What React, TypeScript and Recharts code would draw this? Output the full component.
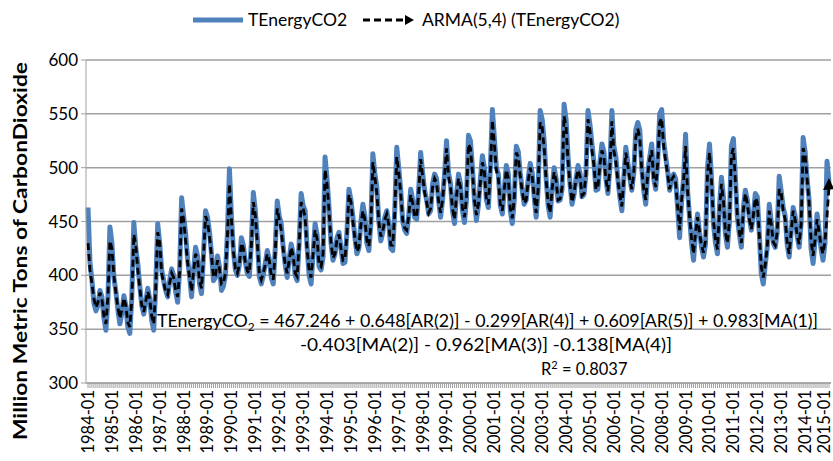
import React from "react";
import { LineChart, Line, XAxis, YAxis, CartesianGrid } from "recharts";

// monthly categories 1984-01 .. 2015-01
const years = [1984, 1985, 1986, 1987, 1988, 1989, 1990, 1991, 1992, 1993, 1994, 1995, 1996, 1997, 1998, 1999, 2000, 2001, 2002, 2003, 2004, 2005, 2006, 2007, 2008, 2009, 2010, 2011, 2012, 2013, 2014, 2015];
const monthCodes = ["01", "02", "03", "04", "05", "06", "07", "08", "09", "10", "11", "12"];

// TEnergyCO2, million metric tons
const energyCO2 = [
  463, 412, 395, 374, 367, 372, 386, 380, 360, 349, 378, 445,
  430, 398, 385, 368, 355, 365, 381, 372, 352, 346, 380, 449,
  425, 411, 390, 372, 364, 375, 388, 378, 358, 349, 390, 448,
  430, 405, 395, 386, 380, 395, 406, 400, 385, 375, 405, 472,
  455, 439, 415, 399, 380, 405, 426, 418, 392, 383, 420, 460,
  454, 440, 420, 395, 398, 418, 408, 386, 390, 400, 440, 499,
  455, 423, 405, 400, 410, 435, 428, 412, 402, 399, 430, 477,
  460, 435, 399, 392, 400, 411, 423, 415, 398, 392, 425, 469,
  455, 448, 426, 410, 398, 415, 429, 420, 400, 395, 430, 476,
  465, 460, 426, 400, 392, 420, 448, 438, 408, 405, 417, 510,
  490, 463, 430, 414, 420, 435, 440, 425, 411, 412, 440, 480,
  470, 454, 435, 420, 425, 450, 466, 455, 430, 423, 448, 513,
  495, 482, 450, 432, 440, 454, 460, 448, 425, 423, 460, 519,
  500, 479, 450, 442, 439, 455, 480, 470, 454, 452, 479, 514,
  495, 479, 470, 457, 460, 485, 494, 490, 470, 454, 470, 494,
  525, 495, 485, 460, 448, 475, 494, 485, 460, 449, 470, 530,
  525, 500, 470, 451, 465, 490, 511, 500, 470, 463, 500, 554,
  528, 500, 494, 465, 457, 480, 502, 495, 460, 448, 470, 520,
  515, 495, 479, 466, 470, 490, 504, 495, 473, 454, 480, 553,
  545, 525, 490, 465, 454, 480, 500, 490, 469, 470, 480, 559,
  545, 510, 485, 466, 475, 490, 502, 495, 473, 475, 495, 553,
  540, 522, 505, 479, 480, 505, 522, 515, 490, 476, 500, 553,
  520, 510, 490, 473, 460, 490, 519, 505, 491, 479, 495, 535,
  542, 535, 500, 479, 466, 495, 510, 522, 490, 480, 505, 550,
  554, 525, 510, 497, 479, 490, 494, 490, 463, 435, 469, 490,
  531, 479, 454, 430, 414, 440, 457, 440, 426, 417, 429, 500,
  522, 491, 448, 430, 420, 463, 491, 473, 439, 426, 450, 520,
  527, 491, 454, 438, 426, 463, 479, 470, 454, 442, 455, 476,
  473, 439, 402, 392, 410, 426, 466, 450, 430, 426, 440, 492,
  478, 463, 455, 429, 417, 440, 463, 455, 437, 426, 448, 528,
  515, 490, 470, 425, 411, 432, 457, 442, 425, 414, 430, 506,
  486,
];

// ARMA(5,4) fitted values
const armaFit = [
  430, 405, 392, 378, 370, 375, 384, 378, 362, 355, 380, 432,
  425, 400, 384, 370, 360, 368, 379, 372, 356, 352, 378, 438,
  428, 405, 388, 372, 366, 376, 385, 378, 362, 355, 388, 440,
  430, 402, 393, 385, 382, 393, 402, 398, 386, 380, 403, 462,
  452, 432, 412, 398, 385, 404, 420, 415, 394, 388, 418, 455,
  450, 436, 418, 398, 400, 414, 406, 392, 393, 402, 436, 485,
  452, 422, 406, 402, 410, 430, 425, 412, 404, 402, 428, 468,
  456, 430, 402, 396, 402, 410, 420, 414, 400, 396, 422, 462,
  452, 442, 424, 410, 402, 414, 426, 418, 402, 399, 428, 468,
  462, 454, 424, 404, 398, 420, 442, 434, 410, 408, 420, 498,
  485, 460, 430, 416, 420, 433, 438, 425, 414, 415, 438, 475,
  468, 450, 434, 422, 426, 447, 460, 452, 432, 427, 447, 505,
  492, 476, 450, 436, 441, 452, 457, 447, 428, 428, 458, 510,
  496, 476, 451, 444, 442, 455, 475, 467, 455, 454, 476, 508,
  492, 477, 468, 458, 462, 482, 490, 486, 469, 458, 470, 492,
  518, 492, 482, 462, 452, 474, 490, 482, 462, 454, 472, 522,
  518, 496, 470, 456, 466, 487, 505, 496, 470, 466, 498, 544,
  522, 498, 490, 466, 460, 480, 498, 490, 462, 453, 472, 514,
  510, 492, 478, 467, 470, 488, 500, 492, 473, 458, 480, 542,
  538, 518, 488, 467, 458, 480, 496, 488, 470, 471, 482, 548,
  538, 506, 484, 468, 476, 489, 498, 492, 474, 476, 494, 545,
  534, 516, 502, 480, 482, 503, 516, 510, 489, 478, 500, 543,
  516, 505, 488, 474, 464, 490, 514, 502, 489, 480, 495, 528,
  536, 528, 498, 480, 470, 494, 508, 516, 490, 482, 504, 542,
  546, 520, 506, 494, 480, 489, 492, 486, 464, 442, 470, 488,
  520, 478, 455, 434, 420, 440, 454, 440, 428, 421, 432, 494,
  514, 488, 450, 433, 424, 460, 485, 470, 440, 430, 450, 512,
  518, 488, 455, 440, 430, 460, 476, 467, 452, 443, 455, 472,
  468, 438, 408, 398, 410, 426, 460, 448, 431, 428, 440, 480,
  476, 460, 452, 430, 420, 440, 460, 452, 437, 429, 447, 518,
  512, 490, 468, 432, 418, 433, 452, 441, 427, 420, 432, 455,
  482,
];

const yTicks = [300, 350, 400, 450, 500, 550, 600];

const categories: string[] = [];
years.forEach((yr) => monthCodes.forEach((m) => categories.push(`${yr}-${m}`)));

const data = energyCO2.map((v, i) => ({ month: categories[i], energy: v, arma: armaFit[i] }));

const FONT = "Lato, 'Open Sans', sans-serif";
const BLUE = "#4f81bd";
const GRID = "#a0a0a0";

const MonthTick = (props: any) => {
  const { x, y, index, payload } = props;
  const lx = Math.min(x, 824);
  return (
    <g>
      <line x1={x} y1={y} x2={x} y2={y + 5} stroke={GRID} strokeWidth={1} />
      {index % 12 === 0 && (
        <text x={lx} y={y + 7} dy="0.36em" textAnchor="end" transform={`rotate(-90, ${lx}, ${y + 7})`}
          fontFamily={FONT} fontSize={16.5} fill="#000">
          {payload.value}
        </text>
      )}
    </g>
  );
};

const EndArrow = (props: any) => {
  const { cx, cy, index } = props;
  if (index !== armaFit.length - 1 || cx == null) return <g key={index} />;
  return <polygon key={index} points={`${cx},${cy - 9} ${cx - 6},${cy + 3} ${cx + 5},${cy + 2}`} fill="#000" />;
};

export default function App() {
  return (
    <div style={{ position: "absolute", left: 0, top: 0, width: 833, height: 461, background: "#fff" }}>
      <LineChart width={833} height={461} data={data} margin={{ top: 60, right: 2, bottom: 0, left: 0 }}>
        <CartesianGrid vertical={false} stroke={GRID} strokeWidth={1.5} />
        <XAxis dataKey="month" interval={0} tick={<MonthTick />} tickLine={false} tickSize={0} tickMargin={0}
          height={78} stroke={GRID} padding={{ left: 2, right: 2 }} />
        <YAxis domain={[300, 600]} ticks={yTicks} width={86} stroke={GRID} tickSize={5} tickMargin={3}
          tick={{ fill: "#000", fontFamily: FONT, fontSize: 17 }} allowDataOverflow />
        <Line dataKey="energy" stroke={BLUE} strokeWidth={5} dot={false} isAnimationActive={false} strokeLinejoin="round" />
        <Line dataKey="arma" stroke="#000" strokeWidth={2.8} strokeDasharray="7 4" dot={<EndArrow />} activeDot={false}
          isAnimationActive={false} />
      </LineChart>
      <svg width={833} height={461} style={{ position: "absolute", left: 0, top: 0, pointerEvents: "none" }}
        fontFamily={FONT}>
        {/* legend */}
        <line x1={193} y1={20} x2={243} y2={20} stroke={BLUE} strokeWidth={5} />
        <text x={248} y={26} fontSize={17.5}>TEnergyCO2</text>
        <line x1={363} y1={20} x2={405} y2={20} stroke="#000" strokeWidth={2.8} strokeDasharray="7 4" />
        <polygon points="414,20 405,15 405,25" fill="#000" />
        <text x={422} y={26} fontSize={17.5}>ARMA(5,4) (TEnergyCO2)</text>
        {/* axis title */}
        <text x={0} y={0} transform="translate(27, 251) rotate(-90)" textAnchor="middle" fontSize={18}
          fontWeight="bold" textLength={378} lengthAdjust="spacingAndGlyphs">
          Million Metric Tons of CarbonDioxide
        </text>
        {/* model equation */}
        <text x={157} y={327} fontSize={16.5} textLength={661} lengthAdjust="spacingAndGlyphs">
          TEnergyCO<tspan dy={4} fontSize={11}>2</tspan><tspan dy={-4}> = 467.246 + 0.648[AR(2)] - 0.299[AR(4)] + 0.609[AR(5)] + 0.983[MA(1)]</tspan>
        </text>
        <text x={300} y={351} fontSize={16.5} textLength={372} lengthAdjust="spacingAndGlyphs">
          -0.403[MA(2)] - 0.962[MA(3)] -0.138[MA(4)]
        </text>
        <text x={541} y={375} fontSize={16.5}>
          R<tspan dy={-6} fontSize={11}>2</tspan><tspan dy={6}> = 0.8037</tspan>
        </text>
      </svg>
    </div>
  );
}
